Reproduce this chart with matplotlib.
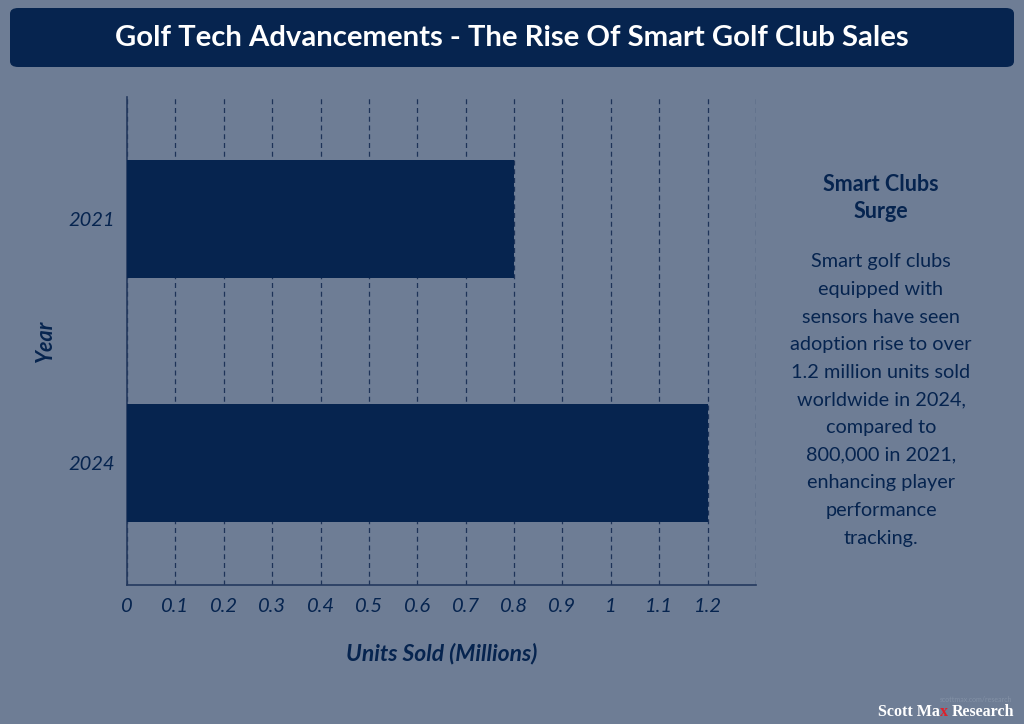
import matplotlib.pyplot as plt
from matplotlib.patches import FancyBboxPatch

years = ['2021', '2024']
units = [0.8, 1.2]
x_ticks = [0, 0.1, 0.2, 0.3, 0.4, 0.5, 0.6, 0.7, 0.8, 0.9, 1, 1.1, 1.2, 1.3]
x_labels = ['0', '0.1', '0.2', '0.3', '0.4', '0.5', '0.6', '0.7', '0.8', '0.9', '1', '1.1', '1.2', '']

title = 'Golf Tech Advancements - The Rise Of Smart Golf Club Sales'
side_head = 'Smart Clubs\nSurge'
side_body = ('Smart golf clubs\nequipped with\nsensors have seen\nadoption rise to over\n'
             '1.2 million units sold\nworldwide in 2024,\ncompared to\n800,000 in 2021,\n'
             'enhancing player\nperformance\ntracking.')

bg = '#6e7d95'
navy = '#06244f'

plt.rcParams['font.family'] = ['Lato', 'DejaVu Sans']

fig = plt.figure(figsize=(10.24, 7.24), dpi=100, facecolor=bg)

# title banner
box = FancyBboxPatch((10 / 1024, 1 - 67 / 724), 1004 / 1024, 59 / 724,
                     boxstyle='round,pad=0,rounding_size=0.008',
                     transform=fig.transFigure, facecolor=navy, edgecolor='none')
fig.patches.append(box)
fig.text(0.5, 1 - 38 / 724, title, ha='center', va='center', color='white',
         fontsize=21.1, fontweight='bold')

ax = fig.add_axes([127 / 1024, 139 / 724, 629 / 1024, 488 / 724])
ax.set_facecolor(bg)
ax.barh(range(len(years)), units, height=0.48, color=navy, zorder=3)
ax.set_ylim(1.5, -0.5)
ax.set_xlim(0, 1.3)
ax.set_yticks(range(len(years)))
ax.set_yticklabels(years)
ax.set_xticks(x_ticks)
ax.set_xticklabels(x_labels)
ax.tick_params(length=0, labelsize=14.5, labelcolor=navy)
ax.tick_params(axis='x', pad=9)
ax.tick_params(axis='y', pad=9)
for lbl in ax.get_xticklabels() + ax.get_yticklabels():
    lbl.set_fontstyle('italic')
ax.grid(axis='x', linestyle=(0, (4, 3)), color='#1e3358', linewidth=0.9, zorder=0)
for side in ['top', 'right']:
    ax.spines[side].set_visible(False)
for side in ['left', 'bottom']:
    ax.spines[side].set_color('#24395e')
    ax.spines[side].set_linewidth(1.2)
ax.set_xlabel('Units Sold (Millions)', fontsize=16.5, fontweight='bold', fontstyle='italic',
              color=navy, labelpad=20)
ax.set_ylabel('Year', fontsize=15.5, fontweight='bold', fontstyle='italic',
              color=navy, labelpad=9)

# side note
fig.text(881 / 1024, 1 - 198 / 724, side_head, ha='center', va='center', color=navy,
         fontsize=15.5, fontweight='bold', linespacing=1.3)
fig.text(881 / 1024, 1 - 400 / 724, side_body, ha='center', va='center', color=navy,
         fontsize=14.3, linespacing=1.76)

# watermark
fig.text(1012 / 1024, 1 - 699 / 724, 'scottmax.com/research', ha='right', va='center',
         color='#8391a6', fontsize=5)
wm_parts = [('Research', 'white'), ('x\u00a0', '#e0202a'), ('Scott Ma', 'white')]
renderer = fig.canvas.get_renderer()
x_right = 1014 / 1024
for part, col in wm_parts:
    t = fig.text(x_right, 1 - 712 / 724, part, ha='right', va='center', color=col,
                 fontsize=11.5, fontweight='bold', family='Liberation Serif')
    bb = t.get_window_extent(renderer).transformed(fig.transFigure.inverted())
    x_right = bb.x0

fig.savefig('out.png', dpi=100, facecolor=bg)
